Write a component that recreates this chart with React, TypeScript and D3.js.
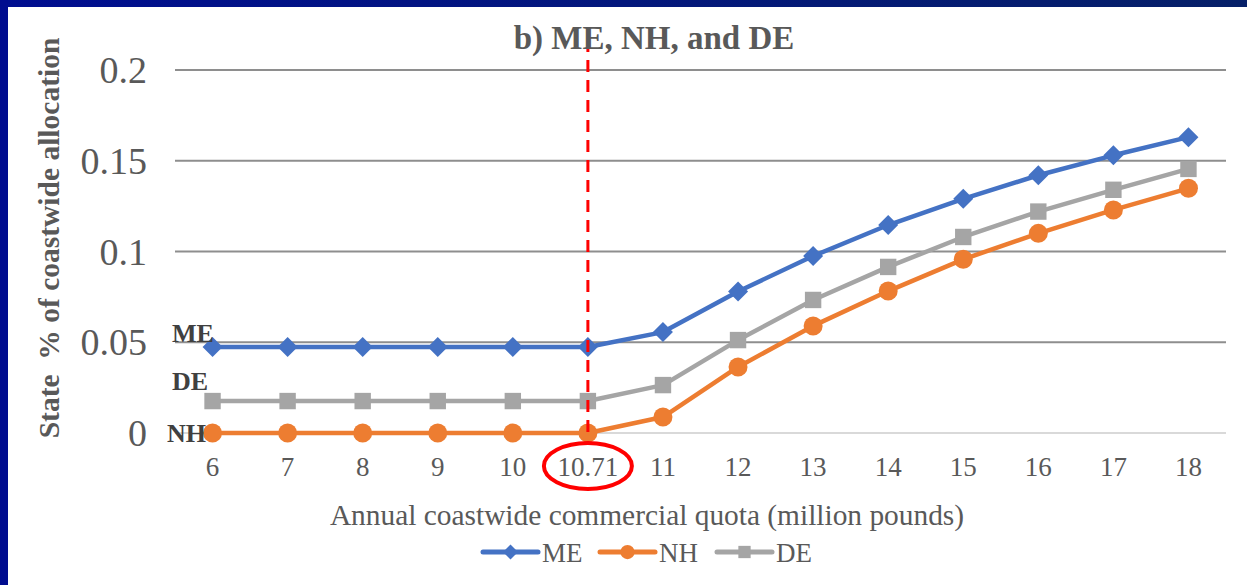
import * as d3 from "d3";

const categories = ["6", "7", "8", "9", "10", "10.71", "11", "12", "13", "14", "15", "16", "17", "18"];
const meValues = [0.0474, 0.0474, 0.0474, 0.0474, 0.0474, 0.0474, 0.0556, 0.078, 0.0975, 0.1146, 0.129, 0.142, 0.153, 0.163];
const nhValues = [0, 0, 0, 0, 0, 0, 0.0088, 0.0364, 0.059, 0.0782, 0.0957, 0.11, 0.1229, 0.1348];
const deValues = [0.0176, 0.0176, 0.0176, 0.0176, 0.0176, 0.0176, 0.0264, 0.0512, 0.0733, 0.0915, 0.108, 0.122, 0.134, 0.1455];
const yTicks = [0, 0.05, 0.1, 0.15, 0.2];
const yTickLabels = ["0", "0.05", "0.1", "0.15", "0.2"];
const seriesNames = ["ME", "NH", "DE"];
const markedCategory = "10.71";

const W = 1247;
const H = 585;
const FONT = "'Liberation Serif', 'Times New Roman', serif";
const TEXT = "#595959";

const colors: Record<string, string> = { ME: "#4472C4", NH: "#ED7D31", DE: "#A5A5A5" };

const Marker = ({ name, x, y, s }: { name: string; x: number; y: number; s: number }) => {
  const c = colors[name];
  if (name === "ME") {
    const p = d3.path();
    p.moveTo(x, y - s);
    p.lineTo(x + s, y);
    p.lineTo(x, y + s);
    p.lineTo(x - s, y);
    p.closePath();
    return <path d={p.toString()} fill={c} />;
  }
  if (name === "NH") return <circle cx={x} cy={y} r={s * 0.95} fill={c} />;
  return <rect x={x - s * 0.82} y={y - s * 0.82} width={s * 1.64} height={s * 1.64} fill={c} />;
};

export default function App() {
  const x = d3.scaleBand<string>().domain(categories).range([175, 1226]);
  const cx = (c: string) => (x(c) ?? 0) + x.bandwidth() / 2;
  const y = d3.scaleLinear().domain([0, 0.2]).range([433, 70]);

  const line = d3
    .line<number>()
    .x((_, i) => cx(categories[i]))
    .y((d) => y(d));

  const series = [
    { name: "ME", values: meValues },
    { name: "NH", values: nhValues },
    { name: "DE", values: deValues },
  ];
  const xm = cx(markedCategory);

  return (
    <svg
      width={W}
      height={H}
      style={{ position: "absolute", left: 0, top: 0, background: "#fff" }}
      fontFamily={FONT}
    >
      <defs>
        <linearGradient id="topband" x1="0" x2="1" y1="0" y2="0">
          <stop offset="0" stopColor="#000E90" />
          <stop offset="1" stopColor="#062068" />
        </linearGradient>
      </defs>
      <rect x={0} y={0} width={W} height={7} fill="url(#topband)" />
      <rect x={0} y={0} width={8} height={H} fill="#000C8F" />

      {/* gridlines */}
      {yTicks.map((t) => (
        <line
          key={t}
          x1={175}
          x2={1226}
          y1={y(t)}
          y2={y(t)}
          stroke={t === 0 ? "#d9d9d9" : "#8e8e8e"}
          strokeWidth={t === 0 ? 2 : 1.8}
        />
      ))}

      {/* y tick labels */}
      {yTicks.map((t, i) => (
        <text key={t} x={147} y={y(t) + 13} textAnchor="end" fontSize={38} fill={TEXT}>
          {yTickLabels[i]}
        </text>
      ))}

      {/* x tick labels */}
      {categories.map((c) => (
        <text key={c} x={cx(c)} y={476} textAnchor="middle" fontSize={27} fill={TEXT}>
          {c}
        </text>
      ))}

      {/* series */}
      {series.map((s) => (
        <g key={s.name}>
          <path d={line(s.values) ?? ""} fill="none" stroke={colors[s.name]} strokeWidth={4.5} strokeLinejoin="round" />
          {s.values.map((v, i) => (
            <Marker key={i} name={s.name} x={cx(categories[i])} y={y(v)} s={10} />
          ))}
        </g>
      ))}

      {/* red dashed reference */}
      <line x1={xm} x2={xm} y1={40} y2={436} stroke="#FF0000" strokeWidth={3} strokeDasharray="12,8" />
      <ellipse cx={xm} cy={466} rx={44} ry={23} fill="none" stroke="#FF0000" strokeWidth={4} />

      {/* title */}
      <text x={654} y={49} textAnchor="middle" fontSize={33} fontWeight="bold" fill={TEXT}>
        b) ME, NH, and DE
      </text>

      {/* y axis title */}
      <text
        transform={`translate(59, 238) rotate(-90)`}
        textAnchor="middle"
        fontSize={29.5}
        fontWeight="bold"
        fill={TEXT}
        xmlSpace="preserve"
      >
        State  % of coastwide allocation
      </text>

      {/* series labels */}
      <text x={172} y={342} fontSize={26} fontWeight="bold" fill="#404040">ME</text>
      <text x={172} y={390} fontSize={26} fontWeight="bold" fill="#404040">DE</text>
      <text x={167} y={442} fontSize={26} fontWeight="bold" fill="#404040">NH</text>

      {/* x axis title */}
      <text x={647} y={525} textAnchor="middle" fontSize={29.4} fill={TEXT}>
        Annual coastwide commercial quota (million pounds)
      </text>

      {/* legend */}
      {seriesNames.map((n, i) => {
        const lx = 483 + i * 117;
        return (
          <g key={n}>
            <line x1={lx} x2={lx + 55} y1={552} y2={552} stroke={colors[n]} strokeWidth={5} strokeLinecap="round" />
            <Marker name={n} x={lx + 27.5} y={552} s={7.5} />
            <text x={lx + 59} y={562} fontSize={27} fill={TEXT}>
              {n}
            </text>
          </g>
        );
      })}
    </svg>
  );
}
